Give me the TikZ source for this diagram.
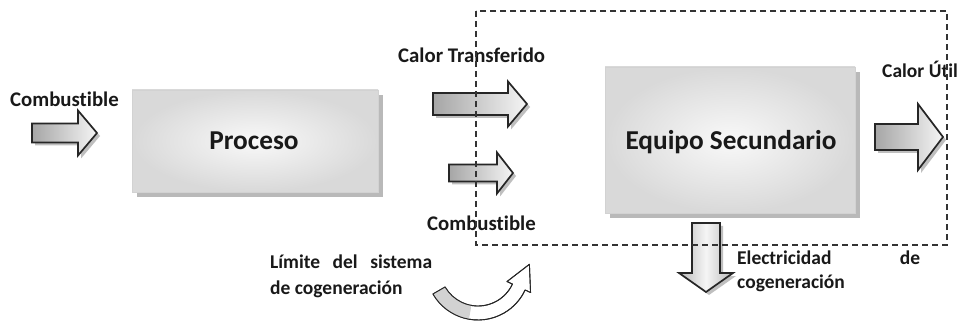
\documentclass[tikz,border=0pt]{standalone}
\usepackage{fontspec}
\setmainfont{Carlito}[Ligatures=NoCommon]
\usetikzlibrary{calc}
\tikzset{
  lbl/.style={font=\fontsize{20.8}{23}\selectfont\bfseries, inner sep=0pt, anchor=base west, text=black!90},
  lbls/.style={lbl, font=\fontsize{19.5}{23}\selectfont\bfseries},
  boxlbl/.style={font=\fontsize{27.3}{30}\selectfont\bfseries, inner sep=0pt, anchor=base, text=black!90},
  sbox/.style={draw=gray!35, line width=0.6pt, inner color=gray!5, outer color=gray!30, inner sep=0pt},
  shbox/.style={fill=gray!55, draw=none, inner sep=0pt},
  arrowsty/.style={draw=black!85, line width=1.7pt, line join=miter},
  arrowshadow/.style={fill=gray!50},
  limit/.style={draw=black!80, dashed, dash pattern=on 6pt off 4pt, line width=1.3pt},
  curv/.style={draw=black!85, line width=0.9pt, line join=round}
}
\newcommand\harrow[6]{%
  \fill[arrowshadow, shift={(3,3)}] (#1,{#4-#5}) -- (#2,{#4-#5}) -- (#2,{#4-#6}) -- (#3,#4) -- (#2,{#4+#6}) -- (#2,{#4+#5}) -- (#1,{#4+#5}) -- cycle;
  \path[arrowsty, left color=gray!70, right color=gray!8] (#1,{#4-#5}) -- (#2,{#4-#5}) -- (#2,{#4-#6}) -- (#3,#4) -- (#2,{#4+#6}) -- (#2,{#4+#5}) -- (#1,{#4+#5}) -- cycle;}
\newcommand\varrow[6]{%
  \fill[arrowshadow, shift={(3,3)}] ({#4-#5},#1) -- ({#4-#5},#2) -- ({#4-#6},#2) -- (#4,#3) -- ({#4+#6},#2) -- ({#4+#5},#2) -- ({#4+#5},#1) -- cycle;
  \path[arrowsty, left color=gray!55, right color=gray!55, middle color=gray!8] ({#4-#5},#1) -- ({#4-#5},#2) -- ({#4-#6},#2) -- (#4,#3) -- ({#4+#6},#2) -- ({#4+#5},#2) -- ({#4+#5},#1) -- cycle;}
\begin{document}
\begin{tikzpicture}[x=1pt,y=-1pt]
  \useasboundingbox[fill=white] (0,0) rectangle (961,323);
  % boxes
  \node[shbox, minimum width=246pt, minimum height=102pt] (procsh) at (260,146) {};
  \node[sbox, minimum width=246pt, minimum height=102pt] (proc) at (255,141) {};
  \node[boxlbl] (proct) at (254,150) {Proceso};
  \node[shbox, minimum width=250pt, minimum height=146pt] (eqsh) at (735,145) {};
  \node[sbox, minimum width=250pt, minimum height=146pt] (eq) at (730,140) {};
  \node[boxlbl] (eqt) at (731,150) {Equipo Secundario};
  % block arrows
  \harrow{32}{78}{97}{133}{9.5}{22.5}
  \harrow{433}{508}{527}{104}{11}{22.5}
  \harrow{449}{497}{513}{173}{8.5}{20.5}
  \harrow{875}{918}{943}{137}{13}{33}
  \varrow{223}{273}{292}{706}{14}{27}
  % labels
  \node[lbl] (lcomb) at (10,107) {Combustible};
  \node[lbl] (lcalt) at (398,63) {Calor Transferido};
  \node[lbl] (lcomb2) at (427,230) {Combustible};
  \node[lbls] (lcalu) at (882,78) {Calor Útil};
  \node[lbls] (lelec) at (737,264) {\makebox[183pt][s]{Electricidad de}};
  \node[lbls] (lcog) at (737,288) {cogeneración};
  \node[lbls] (llim1) at (270,268) {\makebox[162pt][s]{Límite del sistema}};
  \node[lbls] (llim2) at (270,294) {de cogeneración};
  % curved arrow
  \coordinate (C) at (478,268);
  \path[curv, fill=white] ($(C)+(150:52)$) arc[start angle=150, end angle=25, radius=52]
     -- ($(C)+(25:58)$) -- ($(C)+(51.4,-3.7)$) -- ($(C)+(25:32)$) -- ($(C)+(25:38)$)
     arc[start angle=25, end angle=150, radius=38] -- cycle;
  \fill[gray!35] ($(C)+(150:52)$) arc[start angle=150, end angle=100, radius=52]
     -- ($(C)+(100:38)$) arc[start angle=100, end angle=150, radius=38] -- cycle;
  \path[curv] ($(C)+(150:52)$) arc[start angle=150, end angle=25, radius=52]
     -- ($(C)+(25:58)$) -- ($(C)+(51.4,-3.7)$) -- ($(C)+(25:32)$) -- ($(C)+(25:38)$)
     arc[start angle=25, end angle=150, radius=38] -- cycle;
  % system boundary
  \draw[limit] (476,11) rectangle (947,245);
\end{tikzpicture}
\end{document}
